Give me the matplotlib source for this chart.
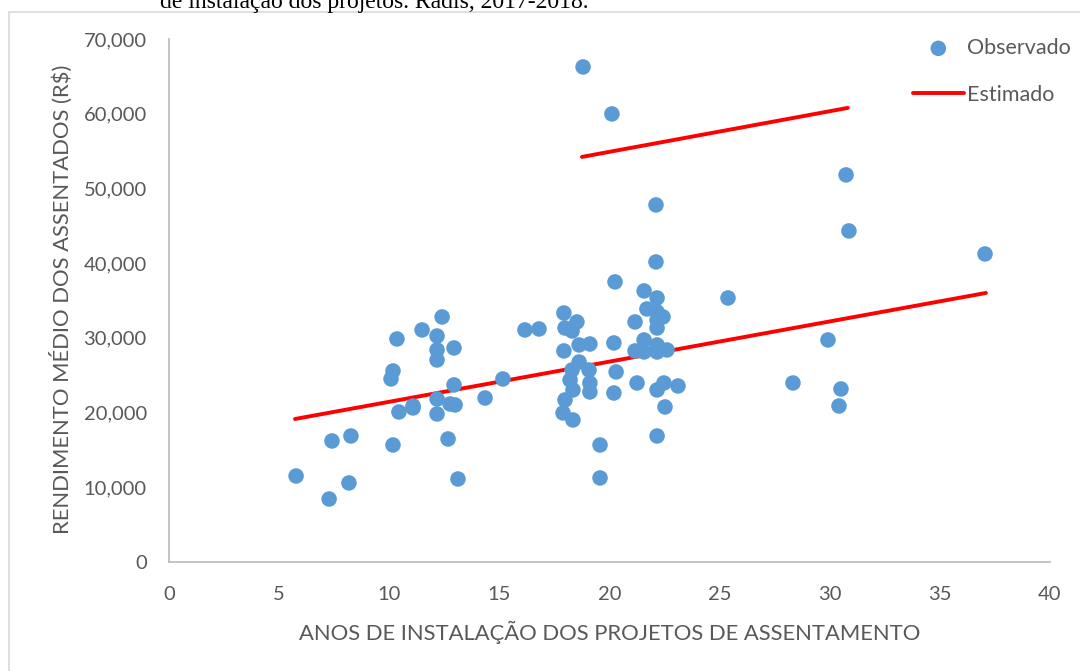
import matplotlib
matplotlib.use("Agg")
import matplotlib.pyplot as plt
from matplotlib.patches import Rectangle
from matplotlib.ticker import FuncFormatter, MultipleLocator

# Observed data (years since installation, mean income R$)
anos = [5.77, 7.27, 7.40, 8.26, 8.17, 10.17, 10.08, 10.35, 10.17, 10.44,
        11.08, 11.08, 11.49, 12.17, 12.17, 12.17, 12.40, 12.94, 12.17, 12.17,
        12.76, 12.99, 12.67, 12.94, 13.12, 14.35, 15.16, 16.16, 16.80, 17.93,
        18.52, 17.98, 18.30, 18.62, 19.11, 17.93, 18.62, 18.30, 19.07, 18.21,
        19.11, 18.34, 19.11, 17.98, 17.89, 18.34, 18.80, 20.11, 19.57, 19.57,
        20.25, 20.20, 20.30, 20.20, 21.16, 21.16, 21.25, 21.57, 21.70, 21.57,
        21.57, 22.11, 22.11, 22.16, 22.16, 22.43, 22.16, 22.16, 22.16, 22.16,
        22.61, 22.16, 22.47, 22.52, 22.16, 23.11, 25.38, 28.33, 29.92, 30.74,
        30.87, 30.51, 30.42, 37.05]
rendimento = [11510, 8430, 16200, 16870, 10580, 25570, 24500, 29850, 15660, 20080,
              20880, 20620, 31060, 30250, 28380, 27040, 32800, 28650, 21820, 19810,
              21150, 21020, 16470, 23700, 11110, 21950, 24500, 31060, 31190, 33330,
              32130, 31320, 30920, 29050, 29180, 28250, 26770, 25700, 25700, 24360,
              23960, 23030, 22760, 21690, 19950, 19010, 66260, 59970, 15660, 11250,
              37490, 29320, 25440, 22620, 32130, 28250, 23960, 36280, 33870, 29720,
              28110, 47790, 40160, 35340, 33470, 32800, 32400, 31320, 29050, 28110,
              28380, 23030, 23960, 20750, 16870, 23560, 35340, 23960, 29720, 51810,
              44310, 23160, 20880, 41230]

# Estimated lines (endpoints)
est1_x = [5.72, 37.09]
est1_y = [19140, 36010]
est2_x = [18.75, 30.82]
est2_y = [54220, 60780]

xlabel = "ANOS DE INSTALAÇÃO DOS PROJETOS DE ASSENTAMENTO"
ylabel = "RENDIMENTO MÉDIO DOS ASSENTADOS (R$)"
title_cut = "de instalação dos projetos. Radis, 2017-2018."

W, H = 1080, 671
fig = plt.figure(figsize=(W / 100, H / 100), dpi=100)
fig.patch.set_facecolor("white")

# chart frame
fig.add_artist(Rectangle((9 / W, -0.05), 1.2, 1 - 12 / H + 0.05, transform=fig.transFigure,
                         fill=False, edgecolor="#D9D9D9", linewidth=1.2))

ax = fig.add_axes([169 / W, 1 - 562 / H, (1050 - 169) / W, (562 - 39) / H])
ax.set_xlim(0, 40)
ax.set_ylim(0, 70000)
ax.xaxis.set_major_locator(MultipleLocator(5))
ax.yaxis.set_major_locator(MultipleLocator(10000))
ax.yaxis.set_major_formatter(FuncFormatter(lambda v, p: f"{int(v):,}"))

txt = "#595959"
for s in ["top", "right"]:
    ax.spines[s].set_visible(False)
for s in ["left", "bottom"]:
    ax.spines[s].set_color("#BFBFBF")
    ax.spines[s].set_linewidth(1.3)
ax.tick_params(length=0, labelsize=14.5, labelcolor=txt)
ax.tick_params(axis="y", pad=16)
ax.tick_params(axis="x", pad=17)
for lab in ax.get_xticklabels() + ax.get_yticklabels():
    lab.set_fontfamily("Lato")

ax.scatter(anos, rendimento, s=125, color="#5B9BD5", edgecolors="none",
           label="Observado", zorder=3, clip_on=False)
ax.plot(est1_x, est1_y, color="#FF0000", lw=2.8, solid_capstyle="round",
        label="Estimado", zorder=2)
ax.plot(est2_x, est2_y, color="#FF0000", lw=2.8, solid_capstyle="round", zorder=2)

leg = ax.legend(loc="upper left", bbox_to_anchor=(913 / W, 1 - 38 / H),
                bbox_transform=fig.transFigure, frameon=False,
                prop={"family": "Lato", "size": 15.5}, handlelength=2.35,
                handletextpad=0.15, labelspacing=1.25, borderaxespad=0,
                borderpad=0)
for t in leg.get_texts():
    t.set_color(txt)

fig.text(610 / W, 1 - 632 / H, xlabel, ha="center", va="center",
         fontsize=15.8, color=txt, family="Lato")
fig.text(61 / W, 1 - 299 / H, ylabel, ha="center", va="center", rotation=90,
         fontsize=15.8, color=txt, family="Lato")
fig.text(160 / W, 1 - 8 / H, title_cut, ha="left", va="baseline",
         fontsize=17, color="black", family="Liberation Serif")

fig.savefig("out.png", dpi=100, facecolor="white")
